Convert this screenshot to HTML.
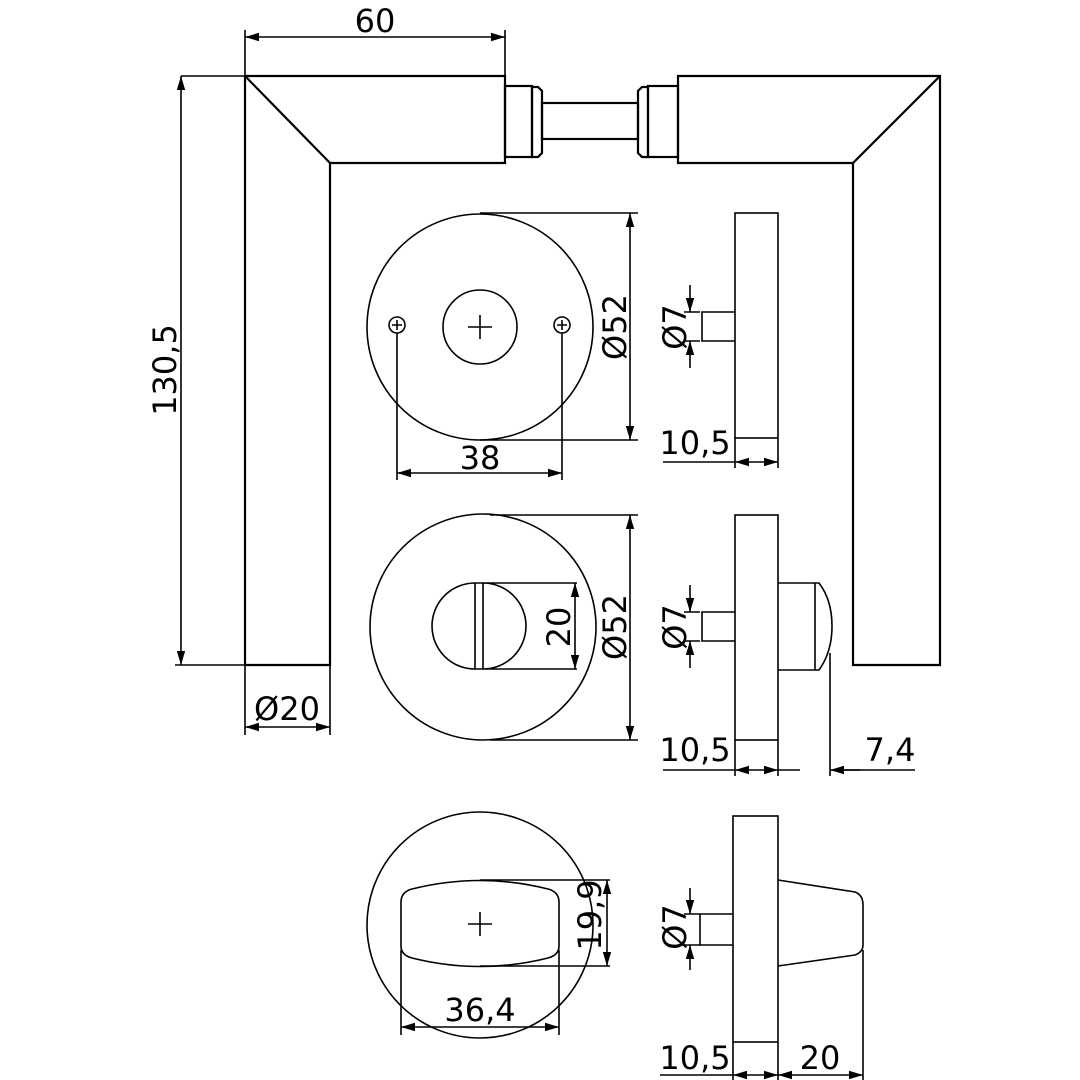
<!DOCTYPE html><html><head><style>body{margin:0;background:#fff}svg{display:block}text{font-family:"DejaVu Sans","Liberation Sans",sans-serif;font-size:32px;fill:#000}</style></head><body>
<svg width="1080" height="1080" viewBox="0 0 1080 1080" xmlns="http://www.w3.org/2000/svg">
<defs><marker id="a" viewBox="0 0 10 10" refX="10" refY="5" markerWidth="14" markerHeight="14" orient="auto-start-reverse" markerUnits="userSpaceOnUse"><path d="M0,2 L10,5 L0,8z" fill="#000"/></marker></defs>
<g fill="none" stroke="#000" stroke-width="2.2">
<path d="M245,76H505V163H330V665H245Z"/><path d="M245,76L330,163"/>
<path d="M678,76H940V665H853V163H678Z"/><path d="M940,76L853,163"/>
<rect x="505" y="86" width="27" height="71"/><path d="M532,87h6l4,4v62l-4,4h-6z"/><rect x="542" y="103" width="96" height="36"/>
<path d="M648,87h-6l-4,4v62l4,4h6z"/><rect x="648" y="86" width="30" height="71"/>
</g>
<g fill="none" stroke="#000" stroke-width="1.6">
<path d="M245,76V30M505,76V30M181,76H245M175,665H245M245,665V735M330,665V735"/>
<line x1="245" y1="37" x2="505" y2="37" marker-start="url(#a)" marker-end="url(#a)"/>
<line x1="181" y1="76" x2="181" y2="665" marker-start="url(#a)" marker-end="url(#a)"/>
<line x1="245" y1="727" x2="330" y2="727" marker-start="url(#a)" marker-end="url(#a)"/>
<circle cx="480" cy="327" r="113"/><circle cx="480" cy="327" r="37"/><path d="M468,327h24M480,315v24"/>
<circle cx="397" cy="325" r="8"/><path d="M392,325h10M397,320v10"/>
<circle cx="562" cy="325" r="8"/><path d="M557,325h10M562,320v10"/>
<path d="M480,213H638M480,440H638M397,333V480M562,333V480"/>
<line x1="630" y1="213" x2="630" y2="440" marker-start="url(#a)" marker-end="url(#a)"/>
<line x1="397" y1="473" x2="562" y2="473" marker-start="url(#a)" marker-end="url(#a)"/>
<rect x="735" y="213" width="43" height="225"/><path d="M735,312H702v29h33"/>
<line x1="690" y1="285" x2="690" y2="312" marker-end="url(#a)"/><line x1="690" y1="368" x2="690" y2="341" marker-end="url(#a)"/><path d="M684,312h16M684,341h16"/>
<path d="M735,438V468M778,438V468M663,462H735"/><line x1="735" y1="462" x2="778" y2="462" marker-start="url(#a)" marker-end="url(#a)"/>
<circle cx="483" cy="627" r="113"/>
<path d="M475,583A43,43 0 1,0 475,669M483,583A43,43 0 0,1 483,669M475,583V669M483,583V669M475,583H577M475,669H577"/>
<line x1="575" y1="583" x2="575" y2="669" marker-start="url(#a)" marker-end="url(#a)"/>
<path d="M490,515H638M490,740H638"/>
<line x1="630" y1="515" x2="630" y2="740" marker-start="url(#a)" marker-end="url(#a)"/>
<rect x="735" y="515" width="43" height="225"/><path d="M735,612H702v29h33"/>
<line x1="690" y1="585" x2="690" y2="612" marker-end="url(#a)"/><line x1="690" y1="668" x2="690" y2="641" marker-end="url(#a)"/><path d="M684,612h16M684,641h16"/>
<path d="M778,583H819Q832,600 832,626Q832,652 819,670H778M815,583V670"/>
<path d="M735,740V776M778,740V776M663,770H735M778,770H800M830,653V776M840,770H915"/>
<line x1="735" y1="770" x2="778" y2="770" marker-start="url(#a)" marker-end="url(#a)"/>
<line x1="860" y1="770" x2="830" y2="770" marker-end="url(#a)"/>
<circle cx="480" cy="925" r="113"/>
<path d="M412,889Q480,872 548,889Q559,892 559,902V946Q559,955 548,958Q480,975 412,958Q401,955 401,946V902Q401,892 412,889Z"/>
<path d="M468,924h24M480,912v24M480,880H610M480,966H610M401,950V1035M559,950V1035"/>
<line x1="607" y1="880" x2="607" y2="966" marker-start="url(#a)" marker-end="url(#a)"/>
<line x1="401" y1="1027" x2="559" y2="1027" marker-start="url(#a)" marker-end="url(#a)"/>
<rect x="733" y="816" width="45" height="226"/><path d="M733,914H700v31h33"/>
<line x1="690" y1="888" x2="690" y2="914" marker-end="url(#a)"/><line x1="690" y1="970" x2="690" y2="945" marker-end="url(#a)"/><path d="M684,914h16M684,945h16"/>
<path d="M778,880L855,892Q863,895 863,905V945Q863,952 855,955L778,966"/>
<path d="M733,1042V1080M778,1042V1080M863,950V1080M660,1075H733"/>
<line x1="733" y1="1075" x2="778" y2="1075" marker-start="url(#a)" marker-end="url(#a)"/>
<line x1="778" y1="1075" x2="863" y2="1075" marker-start="url(#a)" marker-end="url(#a)"/>
</g>
<text x="375" y="32" text-anchor="middle">60</text>
<text transform="translate(176,370) rotate(-90)" text-anchor="middle">130,5</text>
<text x="287" y="720" text-anchor="middle">Ø20</text>
<text transform="translate(626,327) rotate(-90)" text-anchor="middle">Ø52</text>
<text x="480" y="469" text-anchor="middle">38</text>
<text transform="translate(686,327) rotate(-90)" text-anchor="middle">Ø7</text>
<text x="695" y="454" text-anchor="middle">10,5</text>
<text transform="translate(570,627) rotate(-90)" text-anchor="middle">20</text>
<text transform="translate(626,627) rotate(-90)" text-anchor="middle">Ø52</text>
<text transform="translate(686,627) rotate(-90)" text-anchor="middle">Ø7</text>
<text x="695" y="761" text-anchor="middle">10,5</text>
<text x="890" y="761" text-anchor="middle">7,4</text>
<text transform="translate(601,915) rotate(-90)" text-anchor="middle">19,9</text>
<text x="480" y="1021" text-anchor="middle">36,4</text>
<text transform="translate(686,927) rotate(-90)" text-anchor="middle">Ø7</text>
<text x="695" y="1069" text-anchor="middle">10,5</text>
<text x="820" y="1069" text-anchor="middle">20</text>
</svg></body></html>
